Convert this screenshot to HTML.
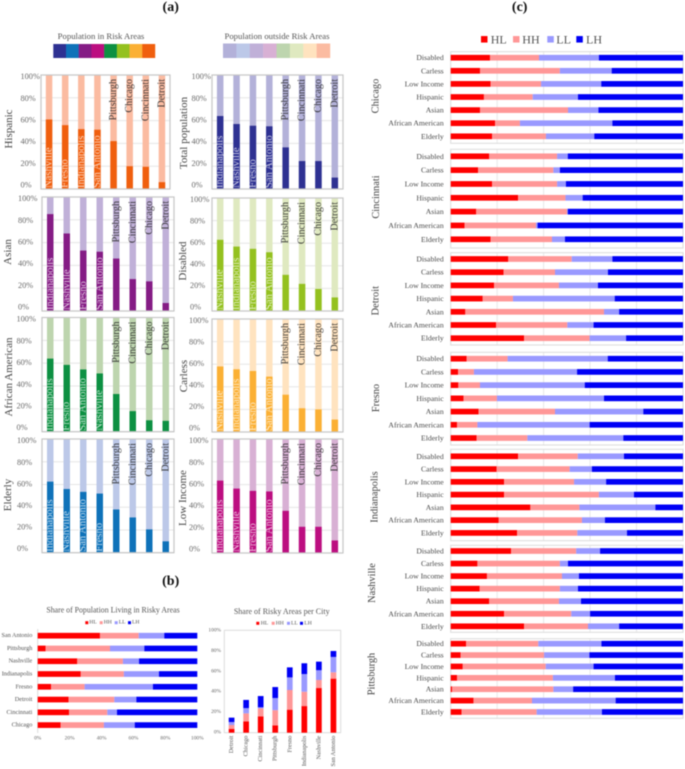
<!DOCTYPE html>
<html lang="en">
<head>
<meta charset="utf-8">
<title>Population in risk areas by city</title>
<style>
html,body{margin:0;padding:0;background:#fff;}
svg{display:block;font-family:"Liberation Serif",serif;filter:blur(0.4px);}
</style>
</head>
<body>
<svg id="chart" xmlns="http://www.w3.org/2000/svg" width="685" height="769" viewBox="0 0 685 769">
  <rect width="685" height="769" fill="#ffffff"/>
  <text x="170.7" y="11" text-anchor="middle" font-size="14" font-weight="bold" fill="#111">(a)</text>
  <text x="170.7" y="585" text-anchor="middle" font-size="14" font-weight="bold" fill="#111">(b)</text>
  <text x="519.7" y="11" text-anchor="middle" font-size="14" font-weight="bold" fill="#111">(c)</text>
  <text x="101" y="39" text-anchor="middle" font-size="8.7" fill="#555">Population in Risk Areas</text>
  <text x="277" y="39" text-anchor="middle" font-size="8.7" fill="#555">Population outside Risk Areas</text>
  <text x="113" y="612.5" text-anchor="middle" font-size="7.85" fill="#555">Share of Population Living in Risky Areas</text>
  <text x="281.7" y="614" text-anchor="middle" font-size="8" fill="#555">Share of Risky Areas per City</text>
  <g id="layer-a"></g>
  <g id="layer-b"></g>
  <g id="layer-c"></g>
</svg>
<script>
// ---------- Section (a) data ----------
const hispanicCities = ["Nashville","Fresno","Indianapolis","San Antonio","Pittsburgh","Chicago","Cincinnati","Detroit"];
const hispanicValues = [61,56,52.5,52,42,20,19.5,6];
const totalCities = ["Indianapolis","Nashville","Fresno","San Antonio","Pittsburgh","Cincinnati","Chicago","Detroit"];
const totalValues = [64,57,55.5,55,36.5,24.5,24.5,10];
const asianCities = ["Indianapolis","Nashville","Fresno","San Antonio","Pittsburgh","Cincinnati","Chicago","Detroit"];
const asianValues = [85,68,53,52,46,28,26,7];
const disabledCities = ["Nashville","Indianapolis","Fresno","San Antonio","Pittsburgh","Cincinnati","Chicago","Detroit"];
const disabledValues = [63,57,55,52,32,24,19.5,12];
const africanCities = ["Indianapolis","Fresno","San Antonio","Nashville","Pittsburgh","Cincinnati","Chicago","Detroit"];
const africanValues = [64,58.5,54.5,51,33,18,10,9.5];
const carlessCities = ["Nashville","Indianapolis","Fresno","San Antonio","Pittsburgh","Cincinnati","Chicago","Detroit"];
const carlessValues = [58,55.5,54,49,33,21,20,11];
const elderlyCities = ["Indianapolis","Nashville","San Antonio","Fresno","Pittsburgh","Cincinnati","Chicago","Detroit"];
const elderlyValues = [62.5,56,53.5,52,38,31,20.5,10];
const lowIncomeCities = ["Indianapolis","Nashville","Fresno","San Antonio","Pittsburgh","Cincinnati","Chicago","Detroit"];
const lowIncomeValues = [63.5,56.5,54.5,54,37,23,23,11];
const percentTicks = [0,20,40,60,80,100];

// ---------- Section (b) data ----------
const shareCities = ["San Antonio","Pittsburgh","Nashville","Indianapolis","Fresno","Detroit","Cincinnati","Chicago"];
const shareHL = [39,5,24.8,27,8.4,19.4,19.6,14.4];
const shareHH = [24.3,40.3,28.6,27,21,28.6,24,27.1];
const shareLL = [16,21.5,10.1,22,42.8,13.8,6.1,19.3];
const shareLH = [20.7,33.2,36.5,24,27.8,38.2,50.3,39.2];
const areaCities = ["Detroit","Chicago","Cincinnati","Pittsburgh","Fresno","Indianapolis","Nashville","San Antonio"];
const areaHL = [3.6,11,16,7.2,22.5,26,43.6,52.8];
const areaHH = [3.9,7.9,7.8,14.8,19.2,14,7.9,6.2];
const areaLL = [2.9,5.1,1,11.9,12.3,17.3,9.5,15];
const areaLH = [4.3,8,11,10.7,9.8,10.5,8.4,5.8];
const riskClasses = ["HL","HH","LL","LH"];

// ---------- Section (c) data: rows hold HL, HH, LL, LH shares ----------
const groupNames = ["Disabled","Carless","Low Income","Hispanic","Asian","African American","Elderly"];
const chicagoShares = [[16.9,21.1,25.8,36.2],[12.6,34.4,22.3,30.7],[17.2,21.7,25.9,35.2],[14.3,21,19.5,45.2],[12.6,37.9,13.1,36.4],[19.1,10.7,39.8,30.4],[17.8,23.2,20.8,38.2]];
const cincinnatiShares = [[16.6,29.2,4.6,49.6],[11.8,32.4,2.8,53],[17.8,28,3.8,50.4],[29,20.4,7.4,43.2],[11,39.1,0.3,49.6],[6,30.7,0.7,62.6],[17.2,26.4,5.6,50.8]];
const detroitShares = [[24.8,27.3,17.5,30.4],[22.8,22.1,22.8,32.3],[18.7,27.9,16.8,36.6],[13.8,13,43.8,29.4],[6.3,59.7,6.5,27.5],[19.5,30.7,11.3,38.5],[31.6,28.2,15.7,24.5]];
const fresnoShares = [[6.9,17.6,43.1,32.4],[3.2,6.8,44.4,45.6],[3.3,9.3,45.1,42.3],[5.5,14.4,46.1,34],[12,32.9,38,17.1],[2.7,8.8,48.3,40.2],[11.2,21.8,41.3,25.7]];
const indianapolisShares = [[29,25.7,19.9,25.4],[19.8,31.4,9.6,39.2],[23,30.1,13.8,33.1],[23,40.8,15.1,21.1],[34.3,21.1,32.7,11.9],[20.7,35.8,9.9,33.6],[28.6,25.9,21.4,24.1]];
const nashvilleShares = [[26,28,10.3,35.7],[11.5,35.5,3.5,49.5],[15.6,32.3,7.3,44.8],[12.5,34.5,7.8,45.2],[16.6,30,9.5,43.9],[23,28.9,8.1,40],[31.6,27.5,13.4,27.5]];
const pittsburghShares = [[6.6,31.1,27.2,35.1],[4.3,35.9,19.5,40.3],[5.2,35.7,20.6,38.5],[2.7,41.3,26.7,29.3],[0.6,43.6,8.5,47.3],[9.8,25.2,36,29],[4.7,32.3,28.1,34.9]];

// ---------- Layout and style (separate from the data) ----------
const NS = "http://www.w3.org/2000/svg";
const riskColors = ["#ff0000","#ff9797","#9999ff","#0000f5"];
const swatchDark = ["#2e3192","#0f72b9","#851c85","#bc0e80","#0d9042","#94c11f","#fbb034","#f05f0e"];
const swatchLight = ["#b3b1d9","#bcc8e8","#c0b0d8","#d8b0d4","#bdd5ae","#dfe9c0","#ffe3bf","#fbbba1"];

const panelsA = [
  {title:"Hispanic",cities:hispanicCities,values:hispanicValues,left:41,right:170,top:75,bottom:189,tickX:20.5,titleX:9,titleY:129,dark:"#f05f0e",light:"#fbbba1"},
  {title:"Total population",cities:totalCities,values:totalValues,left:212,right:343,top:75,bottom:189,tickX:191.5,titleX:184,titleY:133,dark:"#2e3192",light:"#b3b1d9"},
  {title:"Asian",cities:asianCities,values:asianValues,left:42,right:174,top:197,bottom:311,tickX:18,titleX:8,titleY:252,dark:"#851c85",light:"#c0b0d8"},
  {title:"Disabled",cities:disabledCities,values:disabledValues,left:212,right:343,top:198,bottom:311,tickX:190,titleX:183,titleY:261,dark:"#94c11f",light:"#dfe9c0"},
  {title:"African American",cities:africanCities,values:africanValues,left:42,right:174,top:317.5,bottom:431.7,tickX:16.5,titleX:9,titleY:377,dark:"#0d9042",light:"#bdd5ae"},
  {title:"Carless",cities:carlessCities,values:carlessValues,left:212,right:343,top:319,bottom:432,tickX:189,titleX:184,titleY:376,dark:"#fbb034",light:"#ffe3bf"},
  {title:"Elderly",cities:elderlyCities,values:elderlyValues,left:42,right:174,top:439,bottom:552.7,tickX:17,titleX:8,titleY:495,dark:"#0f72b9",light:"#bcc8e8"},
  {title:"Low Income",cities:lowIncomeCities,values:lowIncomeValues,left:212,right:343,top:439,bottom:553,tickX:189,titleX:183,titleY:498,dark:"#bc0e80",light:"#d8b0d4"}
];
const facets = [
  {city:"Chicago",shares:chicagoShares,top:51.7,bottom:143.3,firstRow:57.7,rowStep:13.1,labelX:376,labelY:96},
  {city:"Cincinnati",shares:cincinnatiShares,top:149.3,bottom:248,firstRow:156.3,rowStep:13.83,labelX:376.7,labelY:197},
  {city:"Detroit",shares:detroitShares,top:252.7,bottom:345,firstRow:259,rowStep:13.2,labelX:376,labelY:300.7},
  {city:"Fresno",shares:fresnoShares,top:352.3,bottom:445,firstRow:358.7,rowStep:13.22,labelX:376.7,labelY:398},
  {city:"Indianapolis",shares:indianapolisShares,top:449.3,bottom:540.7,firstRow:456.3,rowStep:12.77,labelX:375,labelY:497},
  {city:"Nashville",shares:nashvilleShares,top:545.3,bottom:632.3,firstRow:551,rowStep:12.55,labelX:372.7,labelY:583},
  {city:"Pittsburgh",shares:pittsburghShares,top:638.7,bottom:718.3,firstRow:643.7,rowStep:11.38,labelX:372,labelY:674}
];

function make(parent, tag, attrs, text) {
  const el = document.createElementNS(NS, tag);
  for (const k in attrs) el.setAttribute(k, attrs[k]);
  if (text !== undefined) el.textContent = text;
  parent.appendChild(el);
  return el;
}
function rotated(x, y) { return "rotate(-90 " + x + " " + y + ")"; }

const layerA = document.getElementById("layer-a");
const layerB = document.getElementById("layer-b");
const layerC = document.getElementById("layer-c");

// ---------- Colour keys of section (a) ----------
function drawSwatches(colors, x0, x1, y0, y1, name) {
  const step = (x1 - x0) / colors.length;
  colors.forEach(function (c, i) {
    const r = make(layerA, "rect", {x: x0 + i * step, y: y0, width: step + 0.2, height: y1 - y0, fill: c});
    
    
  });
}
drawSwatches(swatchDark, 53.3, 155, 44, 58, "risk-colour-swatch");
drawSwatches(swatchLight, 223, 330, 43.5, 58, "outside-colour-swatch");

// ---------- Section (a) panels ----------
panelsA.forEach(function (p) {
  const g = make(layerA, "g", {});
  
  
  const yScale = function (v) { return p.bottom - v / 100 * (p.bottom - p.top); };
  const step = (p.right - p.left) / p.values.length;
  const barW = 6.5;

  percentTicks.forEach(function (t) {
    const grid = make(g, "line", {x1: p.left, x2: p.right, y1: yScale(t), y2: yScale(t), stroke: "#e6e6e6", "stroke-width": 1});
    
    
    const labelY = (p.bottom - 4) - t / 100 * (p.bottom - 4 - p.top - 1.7);
    const lab = make(g, "text", {x: p.tickX, y: labelY, "dominant-baseline": "central", "font-size": 8.3, fill: "#6a6a6a"}, t + "%");
    
    
  });

  p.values.forEach(function (v, i) {
    const cx = p.left + (i + 0.5) * step;
    const bg = make(g, "rect", {x: cx - barW / 2, y: yScale(100), width: barW, height: yScale(0) - yScale(100), fill: p.light});
    
    
    const fg = make(g, "rect", {x: cx - barW / 2, y: yScale(v), width: barW, height: yScale(0) - yScale(v), fill: p.dark});
    
    
  });

  const frame = make(g, "rect", {x: p.left, y: p.top, width: p.right - p.left, height: p.bottom - p.top, fill: "none", stroke: "#c6c6c6", "stroke-width": 1.2});
  
  

  p.cities.forEach(function (c, i) {
    const cx = p.left + (i + 0.5) * step;
    const inside = i < 4;
    const ty = inside ? p.bottom - 1 : p.top + 4;
    const t = make(g, "text", {
      x: cx, y: ty, transform: rotated(cx, ty), "dominant-baseline": "central",
      "text-anchor": inside ? "start" : "end", "font-size": inside ? 10.6 : 10.1,
      fill: inside ? "#ffffff" : "#2c2c2c", "fill-opacity": inside ? 0.72 : 0.9
    }, c);
    
    
  });

  const title = make(g, "text", {x: p.titleX, y: p.titleY, transform: rotated(p.titleX, p.titleY), "text-anchor": "middle", "dominant-baseline": "central", "font-size": 11, fill: "#444"}, p.title);
  
  
});

// ---------- Section (b) shared legend ----------
function drawLegend(parent, y, size, fontSize, swatchXs, textXs) {
  riskClasses.forEach(function (k, i) {
    const s = make(parent, "rect", {x: swatchXs[i], y: y - size / 2, width: size, height: size, fill: riskColors[i]});
    
    
    const t = make(parent, "text", {x: textXs[i], y: y, "dominant-baseline": "central", "font-size": fontSize, fill: "#555"}, k);
    
    
  });
}
drawLegend(layerB, 622.7, 3, 5.6, [85.3, 99.7, 114.7, 128], [89.3, 103.7, 118.7, 132]);
drawLegend(layerB, 623.3, 3, 5.6, [256.3, 271.7, 287, 300], [260.7, 275.7, 291, 304.3]);

// ---------- Section (b) horizontal stacked chart ----------
(function () {
  const x0 = 37.7, x1 = 197.3, rowTop = 635.7, rowStep = 12.77, barH = 5.7;
  const xScale = function (v) { return x0 + v / 100 * (x1 - x0); };
  const axis = make(layerB, "line", {x1: x0, x2: x0, y1: 629, y2: 733, stroke: "#d5d5d5", "stroke-width": 0.8});
  
  
  const series = [shareHL, shareHH, shareLL, shareLH];
  shareCities.forEach(function (c, i) {
    const y = rowTop + i * rowStep;
    let sum = 0;
    series.forEach(function (vals, s) {
      const v = vals[i];
      const r = make(layerB, "rect", {x: xScale(sum), y: y - barH / 2, width: xScale(sum + v) - xScale(sum), height: barH, fill: riskColors[s]});
      
      
      sum += v;
    });
    const t = make(layerB, "text", {x: 32.3, y: y, "text-anchor": "end", "dominant-baseline": "central", "font-size": 6.2, fill: "#555"}, c);
    
    
  });
  percentTicks.forEach(function (t) {
    const lab = make(layerB, "text", {x: xScale(t), y: 738.3, "text-anchor": "middle", "dominant-baseline": "central", "font-size": 5.4, fill: "#666"}, t + "%");
    
    
  });
})();

// ---------- Section (b) vertical stacked chart ----------
(function () {
  const left = 224.3, right = 340.7, top = 630.3, bottom = 732.7, barW = 5.7;
  const yScale = function (v) { return bottom - v / 100 * (bottom - top); };
  const step = (right - left) / areaCities.length;
  const frame = make(layerB, "rect", {x: left, y: top, width: right - left, height: bottom - top, fill: "none", stroke: "#d9d9d9", "stroke-width": 0.9});
  
  
  percentTicks.forEach(function (t) {
    const lab = make(layerB, "text", {x: 221, y: yScale(t), "text-anchor": "end", "dominant-baseline": "central", "font-size": 5.4, fill: "#666"}, t + "%");
    
    
  });
  const series = [areaHL, areaHH, areaLL, areaLH];
  areaCities.forEach(function (c, i) {
    const cx = left + (i + 0.5) * step;
    let sum = 0;
    series.forEach(function (vals, s) {
      const v = vals[i];
      const r = make(layerB, "rect", {x: cx - barW / 2, y: yScale(sum + v), width: barW, height: yScale(sum) - yScale(sum + v), fill: riskColors[s]});
      
      
      sum += v;
    });
    const t = make(layerB, "text", {x: cx, y: 735.7, transform: rotated(cx, 735.7), "text-anchor": "end", "dominant-baseline": "central", "font-size": 6.2, fill: "#555"}, c);
    
    
  });
})();

// ---------- Section (c) ----------
drawLegend(layerC, 39.3, 6.5, 12, [481, 513, 547.3, 576.3], [490.7, 522.3, 556.3, 586]);
(function () {
  const x0 = 450.7, x1 = 683, barH = 5.7;
  const xScale = function (v) { return x0 + v / 100 * (x1 - x0); };
  facets.forEach(function (f) {
    const g = make(layerC, "g", {});
    
    
    [20, 40, 60, 80].forEach(function (t) {
      const grid = make(g, "line", {x1: xScale(t), x2: xScale(t), y1: f.top, y2: f.bottom, stroke: "#e8e8e8", "stroke-width": 1});
      
      
    });
    const frame = make(g, "rect", {x: x0, y: f.top, width: x1 - x0, height: f.bottom - f.top, fill: "none", stroke: "#dedede", "stroke-width": 1.1});
    
    
    f.shares.forEach(function (row, i) {
      const y = f.firstRow + i * f.rowStep;
      let sum = 0;
      row.forEach(function (v, s) {
        const r = make(g, "rect", {x: xScale(sum), y: y - barH / 2, width: xScale(sum + v) - xScale(sum), height: barH, fill: riskColors[s]});
        
        
        sum += v;
      });
      const t = make(g, "text", {x: 443.7, y: y, "text-anchor": "end", "dominant-baseline": "central", "font-size": 7.7, fill: "#4a4a4a"}, groupNames[i]);
      
      
    });
    const c = make(g, "text", {x: f.labelX, y: f.labelY, transform: rotated(f.labelX, f.labelY), "text-anchor": "middle", "dominant-baseline": "central", "font-size": 10.4, fill: "#444"}, f.city);
    
    
  });
})();
</script>
</body>
</html>
